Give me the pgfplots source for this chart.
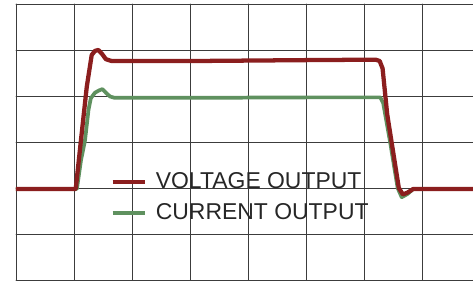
\documentclass[border=0pt]{standalone}
\usepackage{fontspec}
\setmainfont{Liberation Sans}
\usepackage{pgfplots}
\pgfplotsset{compat=1.18}
\definecolor{vred}{RGB}{139,30,30}
\definecolor{cgreen}{RGB}{95,145,95}
\definecolor{gridc}{RGB}{60,60,60}
\begin{document}
\begin{tikzpicture}
\useasboundingbox (-12pt,-0.75pt) rectangle (342.75pt,210pt);
\begin{axis}[
  at={(0,0)}, anchor=south west,
  scale only axis, width=342.75pt, height=207pt,
  xmin=0, xmax=7.879, ymin=0, ymax=6,
  xtick={0,1,...,7}, ytick={0,1,...,6},
  xticklabels={}, yticklabels={},
  major tick length=0pt,
  grid=major,
  grid style={draw=gridc, line width=0.7pt},
  axis line style={draw=none},
  reverse legend,
  legend style={draw=none, fill=none, inner sep=0pt,
    at={(axis cs:1.625,1.8)}, anchor=west,
    font=\fontsize{17.2}{19}\selectfont, text=black!85,
    row sep=6pt, column sep=5pt},
  legend cell align=left,
  legend image code/.code={\draw[#1, line width=3pt] (0pt,0pt) -- (24pt,0pt);},
  line join=round, line cap=round,
]
\addplot[cgreen, line width=2.8pt] coordinates {
(0,1.98) (1.05,1.98) (1.12,2.6) (1.19,3.04) (1.25,3.7) (1.29,3.95) (1.36,4.07)
(1.43,4.12) (1.49,4.15) (1.55,4.07) (1.62,3.99) (1.7,3.96) (3,3.96) (5,3.97)
(6.28,3.97) (6.33,3.85) (6.45,3.0) (6.58,2.0) (6.65,1.8) (6.75,1.87) (6.85,1.98) (7.879,1.98)
};
\addlegendentry{CURRENT OUTPUT}
\addplot[vred, line width=3.2pt] coordinates {
(0,1.98) (1.03,1.98) (1.12,3.04) (1.22,4.2) (1.305,4.89) (1.36,4.98) (1.42,5.0)
(1.48,4.92) (1.55,4.8) (1.65,4.76) (3,4.76) (5,4.78) (6.2,4.79) (6.27,4.76)
(6.32,4.6) (6.4,3.6) (6.47,3.04) (6.6,2.0) (6.67,1.86) (6.75,1.9) (6.85,1.98) (7.879,1.98)
};
\addlegendentry{VOLTAGE OUTPUT}
\end{axis}
\end{tikzpicture}
\end{document}
